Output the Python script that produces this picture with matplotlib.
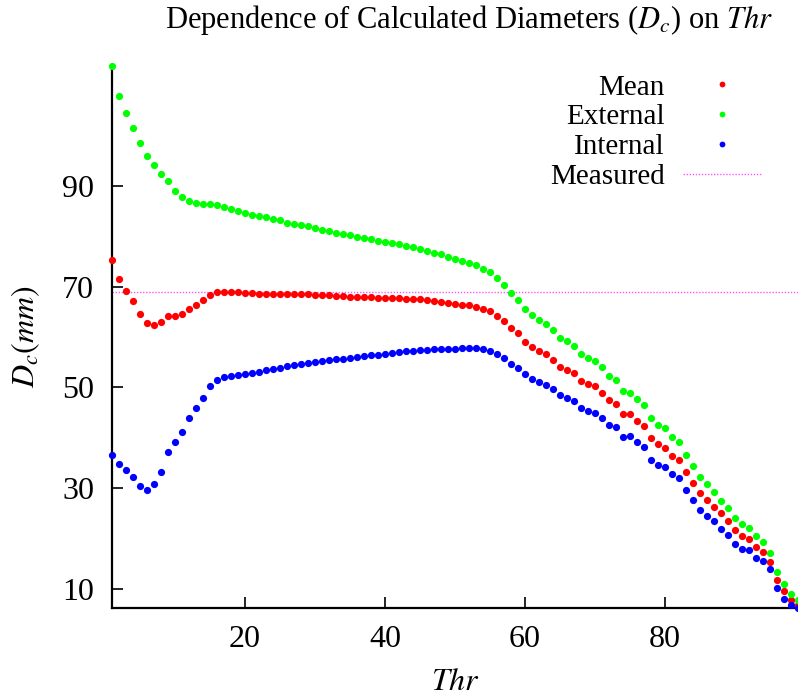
import matplotlib
matplotlib.use("Agg")
import matplotlib.pyplot as plt
import numpy as np

plt.rcParams['font.family'] = ['Liberation Serif', 'DejaVu Serif']
plt.rcParams['mathtext.fontset'] = 'stix'

thr = list(range(1, 100))

external = [113.8, 107.8, 104.3, 101.5, 98.4, 95.9, 94.0, 92.3, 90.9, 88.9,
            87.7, 87.0, 86.6, 86.4, 86.4, 86.2, 85.8, 85.3, 84.9, 84.5,
            84.2, 84.0, 83.7, 83.4, 83.1, 82.6, 82.3, 82.1, 81.9, 81.6,
            81.3, 81.0, 80.6, 80.4, 80.2, 79.9, 79.7, 79.4, 79.1, 78.8,
            78.6, 78.4, 78.1, 77.8, 77.4, 77.0, 76.6, 76.4, 75.9, 75.5,
            75.1, 74.7, 74.3, 73.5, 72.9, 71.7, 70.4, 68.7, 67.3, 65.6,
            64.4, 63.4, 62.5, 61.3, 59.9, 59.3, 58.3, 56.6, 55.8, 55.3,
            54.1, 52.3, 51.4, 49.3, 49.0, 47.7, 46.5, 43.9, 42.6, 41.9,
            40.1, 39.1, 36.6, 34.5, 32.3, 30.8, 29.2, 27.6, 26.2, 24.1,
            22.9, 22.2, 20.6, 19.4, 17.2, 13.4, 11.1, 9.0, 7.9]

mean = [75.3, 71.4, 69.1, 67.1, 64.6, 62.8, 62.4, 62.9, 64.1, 64.1,
        64.6, 65.6, 66.4, 67.3, 68.4, 68.9, 69.0, 68.9, 68.9, 68.7,
        68.7, 68.6, 68.6, 68.6, 68.5, 68.5, 68.5, 68.5, 68.5, 68.4,
        68.4, 68.3, 68.2, 68.1, 68.0, 68.0, 67.9, 67.9, 67.8, 67.7,
        67.7, 67.7, 67.6, 67.5, 67.5, 67.3, 67.1, 67.0, 66.8, 66.6,
        66.4, 66.3, 66.0, 65.6, 65.2, 64.2, 63.1, 61.8, 60.7, 59.1,
        58.1, 57.2, 56.6, 55.5, 54.1, 53.5, 52.8, 51.3, 50.6, 50.2,
        49.0, 47.5, 46.7, 44.7, 44.7, 43.4, 42.4, 39.9, 38.7, 38.1,
        36.5, 35.6, 33.2, 31.1, 29.0, 27.7, 26.4, 25.1, 23.5, 21.7,
        20.6, 20.0, 18.4, 17.4, 15.5, 11.8, 9.7, 7.9, 6.9]

internal = [36.6, 34.8, 33.6, 32.3, 30.5, 29.6, 30.9, 33.2, 37.2, 39.1,
            41.2, 44.0, 45.9, 48.0, 50.2, 51.5, 52.0, 52.3, 52.5, 52.7,
            52.9, 53.1, 53.4, 53.7, 53.9, 54.3, 54.4, 54.6, 54.8, 55.1,
            55.3, 55.5, 55.6, 55.7, 55.9, 56.0, 56.2, 56.4, 56.4, 56.7,
            56.8, 57.1, 57.2, 57.2, 57.4, 57.5, 57.6, 57.6, 57.7, 57.7,
            57.8, 57.8, 57.8, 57.6, 57.3, 56.6, 55.8, 54.7, 53.9, 52.6,
            51.7, 51.1, 50.5, 49.7, 48.5, 48.0, 47.4, 45.9, 45.3, 45.0,
            44.0, 42.6, 42.1, 40.1, 40.3, 39.2, 38.3, 35.7, 34.7, 34.2,
            32.8, 32.0, 29.7, 27.7, 25.7, 24.6, 23.5, 22.0, 20.8, 19.0,
            18.0, 17.8, 16.3, 15.6, 14.0, 10.3, 8.1, 6.9, 6.3]

measured = 69.0

xticks = [20, 40, 60, 80]
yticks = [10, 30, 50, 70, 90]

fig = plt.figure(figsize=(7.98, 6.98), dpi=100)
ax = fig.add_axes([112 / 798, 90 / 698, 686 / 798, 543 / 698])

ms = 5.2
ax.plot(thr, mean, 'o', color='#ff0000', ms=ms, mew=0, label='Mean', clip_on=False, zorder=3)
ax.plot(thr, external, 'o', color='#00ff00', ms=ms, mew=0, label='External', clip_on=False, zorder=3)
ax.plot(thr, internal, 'o', color='#0000ff', ms=ms, mew=0, label='Internal', clip_on=False, zorder=3)
ax.axhline(measured, color='#ff55ff', lw=1.0, ls=(0, (1, 1.2)), label='Measured', zorder=2)

ax.set_xlim(1, 99)
ax.set_ylim(6.3, 113.9)
ax.set_xticks(xticks)
ax.set_yticks(yticks)
ax.tick_params(direction='in', length=8, width=1.2, labelsize=23,
               top=False, right=False)
ax.tick_params(axis='y', pad=13)
ax.tick_params(axis='x', pad=12)
for side in ('top', 'right'):
    ax.spines[side].set_visible(False)
for side in ('left', 'bottom'):
    ax.spines[side].set_linewidth(1.6)

ax.set_xlabel(r'$Thr$', fontsize=23, labelpad=10)
ax.set_ylabel(r'$D_c(mm)$', fontsize=23, labelpad=14)
fig.text(469 / 798, 1 - 20 / 698,
         r'Dependence of Calculated Diameters ($D_c$) on $Thr$',
         fontsize=22, ha='center', va='center')

leg = ax.legend(loc='upper right', bbox_to_anchor=(0.969, 1.01), frameon=False,
                markerfirst=False, fontsize=21, handlelength=2.72,
                handletextpad=0.62, labelspacing=0.12, borderpad=0.0,
                markerscale=0.8)

fig.savefig('out.png', dpi=100)
